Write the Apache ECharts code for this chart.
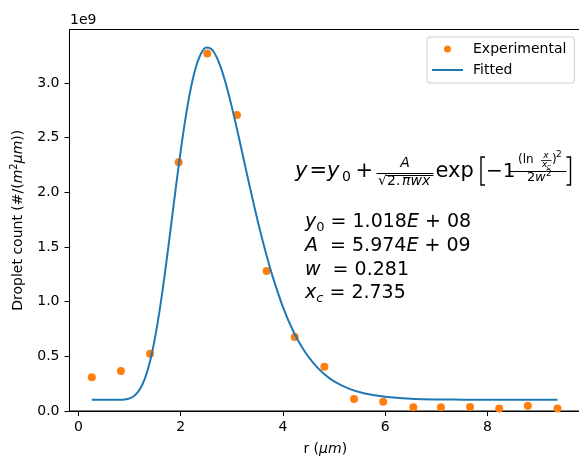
<!DOCTYPE html>
<html>
<head>
<meta charset="utf-8">
<script src="https://cdn.jsdelivr.net/npm/echarts@6/dist/echarts.min.js"></script>
<style>
  html, body { margin: 0; padding: 0; background: #fff; }
  #chart { width: 579px; height: 456px; }
</style>
</head>
<body>
<div id="chart"></div>
<script>
// experimental points (y in units of 1e9)
const expX = [0.26, 0.83, 1.40, 1.96, 2.52, 3.10, 3.68, 4.23, 4.81, 5.39, 5.96, 6.55, 7.09, 7.66, 8.23, 8.79, 9.37]
const expY = [0.308, 0.366, 0.524, 2.275, 3.27, 2.707, 1.28, 0.677, 0.405, 0.11, 0.085, 0.034, 0.034, 0.037, 0.024, 0.048, 0.024]

// fitted curve
const fitX = [0.26, 0.5, 0.8, 0.9, 1.0, 1.1, 1.2, 1.3, 1.4, 1.5, 1.6, 1.7, 1.8, 1.9, 2.0, 2.1, 2.2, 2.3, 2.4, 2.5, 2.6, 2.7, 2.8, 2.9, 3.0, 3.1, 3.2, 3.3, 3.4, 3.5, 3.6, 3.7, 3.8, 4.0, 4.2, 4.4, 4.6, 4.8, 5.0, 5.3, 5.6, 6.0, 6.5, 7.0, 7.5, 8.0, 9.37]
const fitY = [0.102, 0.102, 0.1025, 0.1056, 0.116, 0.142, 0.198, 0.298, 0.456, 0.678, 0.961, 1.294, 1.658, 2.029, 2.382, 2.697, 2.958, 3.151, 3.273, 3.325, 3.311, 3.240, 3.120, 2.964, 2.780, 2.579, 2.369, 2.158, 1.950, 1.750, 1.562, 1.388, 1.227, 0.951, 0.732, 0.562, 0.435, 0.340, 0.271, 0.202, 0.160, 0.130, 0.113, 0.106, 0.104, 0.1025, 0.102]

const xTicks = [0, 2, 4, 6, 8]
const yTicks = [0, 0.5, 1.0, 1.5, 2.0, 2.5, 3.0]

const FONT = 'DejaVu Sans'
const chart = echarts.init(document.getElementById('chart'))

// little helper for the equation pieces
function txt(x, y, text, size, italic, align) {
	return {
		type: 'text',
		z: 100,
		style: {
			x: x, y: y, text: text,
			fontFamily: FONT, fontSize: size,
			fontStyle: italic ? 'italic' : 'normal',
			fill: '#000',
			textAlign: align || 'left',
			textVerticalAlign: 'middle'
		}
	}
}
function seg(pts, w) {
	return {
		type: 'polyline', z: 100,
		shape: { points: pts },
		style: { stroke: '#000', lineWidth: w || 1, fill: null }
	}
}

const richBig = {
	n: { fontFamily: FONT, fontSize: 19, lineHeight: 24, color: '#000' },
	i: { fontFamily: FONT, fontSize: 19, fontStyle: 'italic', lineHeight: 24, color: '#000' },
	s: { fontFamily: FONT, fontSize: 13, lineHeight: 13, verticalAlign: 'bottom', color: '#000' },
	si: { fontFamily: FONT, fontSize: 13, fontStyle: 'italic', lineHeight: 13, verticalAlign: 'bottom', color: '#000' }
}
function param(y, text) {
	return {
		type: 'text', z: 100,
		style: { x: 305, y: y, text: text, rich: richBig, textVerticalAlign: 'middle' }
	}
}

chart.setOption({
	animation: false,
	grid: {
		left: 69.5, top: 29.5, right: -2, bottom: 45,
		outerBoundsMode: 'none',
		show: true, borderColor: '#000', borderWidth: 1
	},
	legend: {
		orient: 'vertical',
		left: 427, top: 37,
		padding: [5, 8, 6, 5],
		itemWidth: 31, itemHeight: 7, itemGap: 7,
		backgroundColor: 'rgba(255,255,255,0.8)',
		borderColor: '#cccccc', borderWidth: 1, borderRadius: 3,
		textStyle: { fontFamily: FONT, fontSize: 14, color: '#000', padding: [0, 0, 0, 5] },
		data: [
			{ name: 'Experimental', icon: 'circle' },
			{ name: 'Fitted', icon: 'path://M0,0H31V2H0Z' }
		]
	},
	xAxis: {
		type: 'value',
		min: -0.176, max: 9.83,
		name: '{n|r (}{i|μm}{n|)}',
		nameLocation: 'middle', nameGap: 31,
		nameTextStyle: {
			rich: {
				n: { fontFamily: FONT, fontSize: 14, color: '#000' },
				i: { fontFamily: FONT, fontSize: 14, fontStyle: 'italic', color: '#000' }
			}
		},
		axisLine: { show: true, onZero: false, lineStyle: { color: '#000', width: 1 } },
		axisTick: { show: true, customValues: xTicks, length: 5, lineStyle: { color: '#000' } },
		axisLabel: { customValues: xTicks, fontFamily: FONT, fontSize: 14, color: '#000', margin: 9 },
		splitLine: { show: false }
	},
	yAxis: {
		type: 'value',
		min: 0, max: 3.49,
		name: '{n|Droplet count (#/(}{i|m}{sup|2}{i|μm}{n|))}',
		nameLocation: 'middle', nameGap: 42,
		nameTextStyle: {
			rich: {
				n: { fontFamily: FONT, fontSize: 14, lineHeight: 18, color: '#000' },
				i: { fontFamily: FONT, fontSize: 14, lineHeight: 18, fontStyle: 'italic', color: '#000' },
				sup: { fontFamily: FONT, fontSize: 10, lineHeight: 10, verticalAlign: 'top', color: '#000' }
			}
		},
		axisLine: { show: true, onZero: false, lineStyle: { color: '#000', width: 1 } },
		axisTick: { show: true, customValues: yTicks, length: 5, lineStyle: { color: '#000' } },
		axisLabel: {
			customValues: yTicks, fontFamily: FONT, fontSize: 14, color: '#000', margin: 10,
			formatter: function (v) { return v.toFixed(1) }
		},
		splitLine: { show: false }
	},
	series: [
		{
			name: 'Experimental',
			type: 'scatter',
			symbolSize: 8,
			itemStyle: { color: '#ff7f0e', opacity: 1 },
			z: 2,
			data: expX.map(function (x, i) { return [x, expY[i]] })
		},
		{
			name: 'Fitted',
			type: 'line',
			symbol: 'none',
			smooth: 0.3,
			lineStyle: { color: '#1f77b4', width: 2 },
			itemStyle: { color: '#1f77b4' },
			z: 3,
			data: fitX.map(function (x, i) { return [x, fitY[i]] })
		}
	],
	graphic: [
		txt(70, 20, '1e9', 14, false),

		// y = y0 + A/sqrt(2.pi w x) exp[-1 (ln x/xc)^2 / 2w^2]
		txt(295, 172, 'y', 21, true),
		txt(309.5, 171.5, '=', 21, false),
		txt(327, 172, 'y', 21, true),
		txt(342, 177.5, '0', 14, false),
		txt(355.5, 172, '+', 21, false),
		seg([[376.5, 173.5], [433.5, 173.5]], 1),
		txt(405, 163, 'A', 14, true, 'center'),
		txt(378, 181, '√', 14, false),
		seg([[386, 175.5], [433.5, 175.5]], 1),
		txt(387, 181.5, '2.', 14, false),
		txt(402, 181.5, 'πwx', 14, true),
		txt(435.5, 171.5, 'exp', 21, false),
		seg([[485, 157], [481, 157], [481, 185], [485, 185]], 1.4),
		txt(486, 171.5, '−1', 20, false),
		seg([[510, 171.5], [566.5, 171.5]], 1),
		txt(518, 160, '(ln', 12, false),
		txt(546, 155.5, 'x', 9, true, 'center'),
		seg([[541, 160.5], [551.5, 160.5]], 0.8),
		txt(542, 165, 'x', 9, true),
		txt(547, 167, 'c', 7, true),
		txt(552, 160, ')', 12, false),
		txt(556, 155, '2', 9, false),
		txt(527, 178, '2', 13, false),
		txt(535, 178, 'w', 13, true),
		txt(546, 174, '2', 9, false),
		seg([[566.5, 157], [570.5, 157], [570.5, 185], [566.5, 185]], 1.4),

		// fit parameters
		param(222, '{i|y}{s|0}{n| = 1.018}{i|E}{n| + 08}'),
		param(246.5, '{i|A}{n|  = 5.974}{i|E}{n| + 09}'),
		param(270, '{i|w}{n|  = 0.281}'),
		param(293, '{i|x}{si|c}{n| = 2.735}')
	]
})
</script>
</body>
</html>
